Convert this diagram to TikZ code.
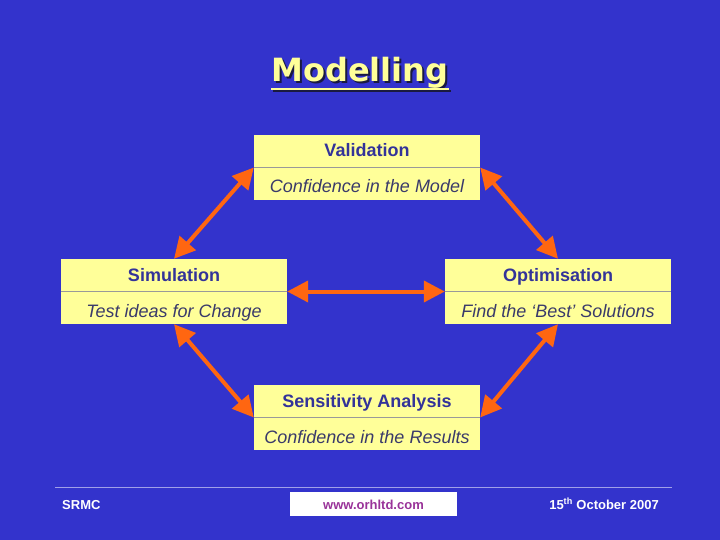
\documentclass[tikz,border=0pt]{standalone}
\usepackage{fontspec}
\setmainfont{Liberation Sans}
\newfontfamily\titlefont{DejaVu Sans}
\usetikzlibrary{arrows.meta}
\definecolor{bg}{HTML}{3333CC}
\definecolor{boxfill}{HTML}{FFFF99}
\definecolor{headcol}{HTML}{333399}
\definecolor{subcol}{HTML}{3A3A6A}
\definecolor{arrcol}{HTML}{FF6611}
\definecolor{linecol}{HTML}{A0A0E8}
\definecolor{urlcol}{HTML}{993399}
\definecolor{shadowcol}{HTML}{1A1A40}
\tikzset{
  box/.style={fill=boxfill, minimum width=226pt, minimum height=65pt, inner sep=0pt},
  divider/.style={draw=gray!80, line width=0.8pt},
  headtxt/.style={text=headcol, font=\fontsize{18}{20}\selectfont\bfseries, inner sep=0pt, anchor=base},
  subtxt/.style={text=subcol, font=\fontsize{18}{20}\selectfont\itshape, inner sep=0pt, anchor=base},
  link/.style={draw=arrcol, line width=4pt, {Triangle[length=21pt,width=21pt]}-{Triangle[length=21pt,width=21pt]}},
  foot/.style={text=white, font=\fontsize{13}{15}\selectfont\bfseries, inner sep=0pt, anchor=base},
  titletxt/.style={font=\titlefont\fontsize{32}{36}\selectfont\bfseries, inner sep=0pt, anchor=base}
}
\begin{document}
\begin{tikzpicture}[x=1pt,y=-1pt]
\fill[bg] (0,0) rectangle (720,540);
\useasboundingbox (0,0) rectangle (720,540);
% title with shadow
\node[titletxt, text=shadowcol] (titleshadow) at (362,84) {Modelling};
\coordinate (ulsl) at (273,91);
\coordinate (ulsr) at (451,91);
\draw[shadowcol, line width=2.5pt] (ulsl) -- (ulsr);
\node[titletxt, text=boxfill] (title) at (360,82) {Modelling};
\coordinate (ull) at (271,89);
\coordinate (ulr) at (449,89);
\draw[boxfill, line width=2.5pt] (ull) -- (ulr);
% boxes
\node[box] (val) at (367,167.5) {};
\node[box] (sim) at (174,291.5) {};
\node[box] (opt) at (558,291.5) {};
\node[box] (sens) at (367,417.5) {};
\foreach \b in {val,sim,opt,sens} {\draw[divider] (\b.west) -- (\b.east);}
\node[headtxt] (valh) at (367,157) {Validation};
\node[subtxt] (vals) at (367,193) {Confidence in the Model};
\node[headtxt] (simh) at (174,281) {Simulation};
\node[subtxt] (sims) at (174,317) {Test ideas for Change};
\node[headtxt] (opth) at (558,281) {Optimisation};
\node[subtxt] (opts) at (558,317) {Find the ‘Best’ Solutions};
\node[headtxt] (sensh) at (367,407) {Sensitivity Analysis};
\node[subtxt] (senss) at (367,443) {Confidence in the Results};
% arrows
\draw[link] (val.west) -- (sim.north);
\draw[link] (val.east) -- (opt.north);
\draw[link] (sim.east) -- (opt.west);
\draw[link] (sim.south) -- (sens.west);
\draw[link] (opt.south) -- (sens.east);
% footer
\coordinate (fl) at (55,487);
\coordinate (fr) at (672,487);
\draw[linecol, line width=1pt] (fl) -- (fr);
\node[foot, anchor=base west] (srmc) at (62,509) {SRMC};
\node[fill=white, minimum width=167pt, minimum height=24pt, inner sep=0pt] (url) at (373.5,504) {};
\node[foot, text=urlcol] (urltxt) at (373.5,509) {www.orhltd.com};
\node[foot, anchor=base east] (date) at (659,509) {15\textsuperscript{th} October 2007};
\end{tikzpicture}
\end{document}
